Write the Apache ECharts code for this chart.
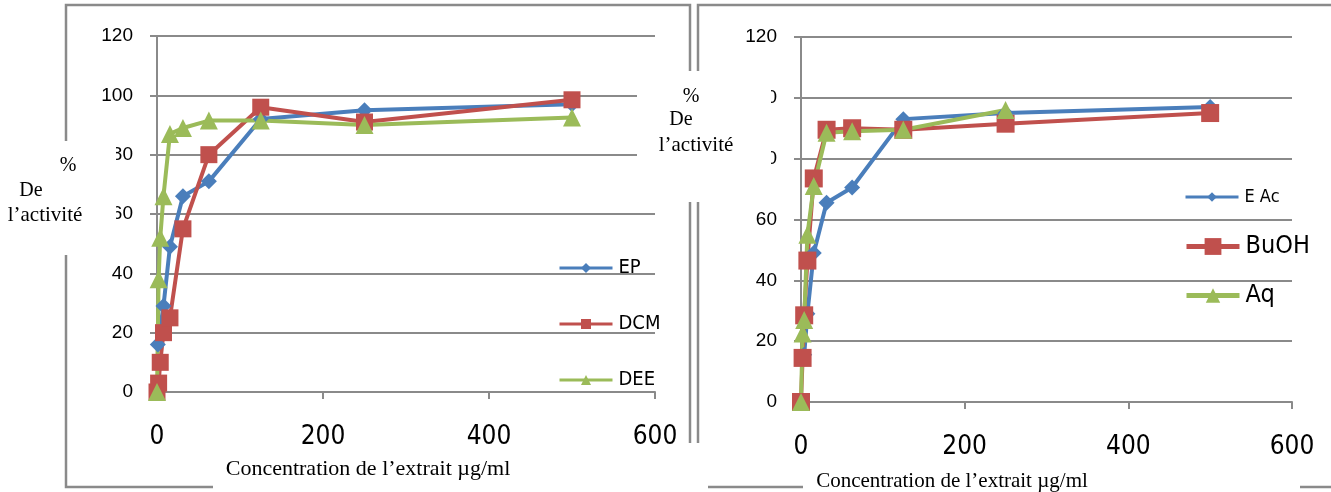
<!DOCTYPE html>
<html><head><meta charset="utf-8">
<script src="https://cdn.jsdelivr.net/npm/echarts@6/dist/echarts.min.js"></script>
<style>html,body{margin:0;padding:0;background:#fff}#c{width:1331px;height:492px}</style>
</head><body><div id="c"></div>
<script>
// ---- data ----
const epX   = [0.98, 7.8, 15.6, 31.25, 62.5, 125, 250, 500];
const epY   = [16, 29, 49, 66, 71, 92, 95, 97];
const dcmX  = [0, 1.95, 3.9, 7.8, 15.6, 31.25, 62.5, 125, 250, 500];
const dcmY  = [0, 3, 10, 20, 25, 55, 80, 96, 91, 98.5];
const deeX  = [0, 1.95, 3.9, 7.8, 15.6, 31.25, 62.5, 125, 250, 500];
const deeY  = [0, 38, 52, 66, 87, 89, 91.5, 91.5, 90, 92.5];
const eacX  = [3.9, 7.8, 15.6, 31.25, 62.5, 125, 250, 500];
const eacY  = [15.5, 29, 49, 65.5, 70.5, 93, 95, 97];
const buohX = [0, 1.95, 3.9, 7.8, 15.6, 31.25, 62.5, 125, 250, 500];
const buohY = [0, 14.5, 28.5, 46.5, 73.5, 89.5, 90, 89.5, 91.5, 95];
const aqX   = [0, 1.95, 3.9, 7.8, 15.6, 31.25, 62.5, 125, 250];
const aqY   = [0, 22.5, 27, 55, 71, 88.5, 89, 89.5, 96];
const leftNames  = ['EP', 'DCM', 'DEE'];
const rightNames = ['E Ac', 'BuOH', 'Aq'];
const xTitle = 'Concentration de l’extrait µg/ml';
const yTitleLines = ['%', 'De', 'l’activité'];

const zip = (xs, ys) => xs.map((x, i) => [x, ys[i]]);
const BLUE = '#4a7ebb', RED = '#c0504d', GREEN = '#9bbb59', GRAY = '#8a8a8a';
const NARROW = '"Liberation Sans Narrow","Arial Narrow","DejaVu Sans Condensed",sans-serif';
const SANS = '"Liberation Sans",Arial,sans-serif';
const SERIF = '"Liberation Serif","Times New Roman",serif';

function xAxis(gi) {
  return {
    type: 'value', gridIndex: gi, min: 0, max: 600, interval: 200,
    axisLine: { show: true, lineStyle: { color: GRAY, width: 2 } },
    axisTick: { show: true, length: 7, lineStyle: { color: GRAY, width: 2 } },
    splitLine: { show: false },
    axisLabel: { margin: 32, fontFamily: NARROW, fontSize: 26, color: '#000' }
  };
}
function yAxis(gi) {
  return {
    type: 'value', gridIndex: gi, min: 0, max: 120, interval: 20,
    axisLine: { show: true, lineStyle: { color: GRAY, width: 2 } },
    axisTick: { show: true, length: 7, lineStyle: { color: GRAY, width: 2 } },
    splitLine: { show: true, lineStyle: { color: GRAY, width: 2 } },
    axisLabel: { margin: 24, fontFamily: SANS, fontSize: 19, color: '#000' }
  };
}
function ser(name, data, color, symbol, size, gi) {
  return {
    name, type: 'line', data, xAxisIndex: gi, yAxisIndex: gi,
    symbol, symbolSize: size, showSymbol: true,
    lineStyle: { color, width: 4 }, itemStyle: { color },
    emphasis: { disabled: true }, animation: false
  };
}
function leg(name, left, top, fs, ih, lw) {
  return {
    data: [name], left, top, padding: 0, orient: 'vertical',
    itemWidth: 53, itemHeight: ih, itemGap: 0,
    lineStyle: { width: lw },
    textStyle: { fontFamily: NARROW, fontSize: fs, color: '#000', padding: [0, 0, 0, 1] },
    selectedMode: false
  };
}
function line(pts, z) {
  return { type: 'polyline', z: z || 50, shape: { points: pts },
    style: { stroke: GRAY, lineWidth: 2.5, fill: null } };
}
function txt(text, cx, cy, fs, z) {
  return { type: 'text', z: z || 110, x: cx, y: cy,
    style: { text, fontFamily: SERIF, fontSize: fs, fill: '#000', align: 'center', verticalAlign: 'middle' } };
}

const chart = echarts.init(document.getElementById('c'), null, { renderer: 'canvas' });
chart.setOption({
  animation: false,
  backgroundColor: '#fff',
  grid: [
    { left: 157, right: 676, top: 36, bottom: 100 },
    { left: 801, right: 39, top: 37, bottom: 90 }
  ],
  xAxis: [xAxis(0), xAxis(1)],
  yAxis: [yAxis(0), yAxis(1)],
  legend: [
    leg(leftNames[0], 558, 258, 20, 12.5, 3),
    leg(leftNames[1], 558, 314, 20, 12.5, 3),
    leg(leftNames[2], 558, 370, 20, 12.5, 3),
    leg(rightNames[0], 1184, 188, 18, 12, 3),
    leg(rightNames[1], 1184, 234, 25, 21, 5),
    leg(rightNames[2], 1184, 283, 25, 18, 5)
  ],
  series: [
    ser(leftNames[0], zip(epX, epY), BLUE, 'diamond', 16, 0),
    ser(leftNames[1], zip(dcmX, dcmY), RED, 'rect', 17, 0),
    ser(leftNames[2], zip(deeX, deeY), GREEN, 'triangle', 18, 0),
    ser(rightNames[0], zip(eacX, eacY), BLUE, 'diamond', 16, 1),
    ser(rightNames[1], zip(buohX, buohY), RED, 'rect', 18, 1),
    ser(rightNames[2], zip(aqX, aqY), GREEN, 'triangle', 18, 1)
  ],
  graphic: [
    // frames
    line([[66, 141], [66, 5], [690, 5], [690, 71]]),
    line([[66, 255], [66, 487], [213, 487]]),
    line([[690, 202], [690, 443]]),
    line([[698, 71], [698, 5], [1331, 5]]),
    line([[698, 202], [698, 443]]),
    line([[708, 487], [803, 487]]),
    line([[1300, 487], [1331, 487]]),
    // y-title boxes (white, overlapping)
    { type: 'rect', z: 100, shape: { x: 0, y: 141, width: 116, height: 114 }, style: { fill: '#fff' } },
    { type: 'rect', z: 100, shape: { x: 637, y: 71, width: 134, height: 131 }, style: { fill: '#fff' } },
    txt(yTitleLines[0], 68, 166, 20), txt(yTitleLines[1], 31, 191, 20), txt(yTitleLines[2], 45, 215, 21),
    txt(yTitleLines[0], 691, 97, 20), txt(yTitleLines[1], 681, 120, 20), txt(yTitleLines[2], 696, 145, 21),
    // x titles
    txt(xTitle, 368, 469, 22), txt(xTitle, 952, 481, 21)
  ]
});
</script></body></html>
